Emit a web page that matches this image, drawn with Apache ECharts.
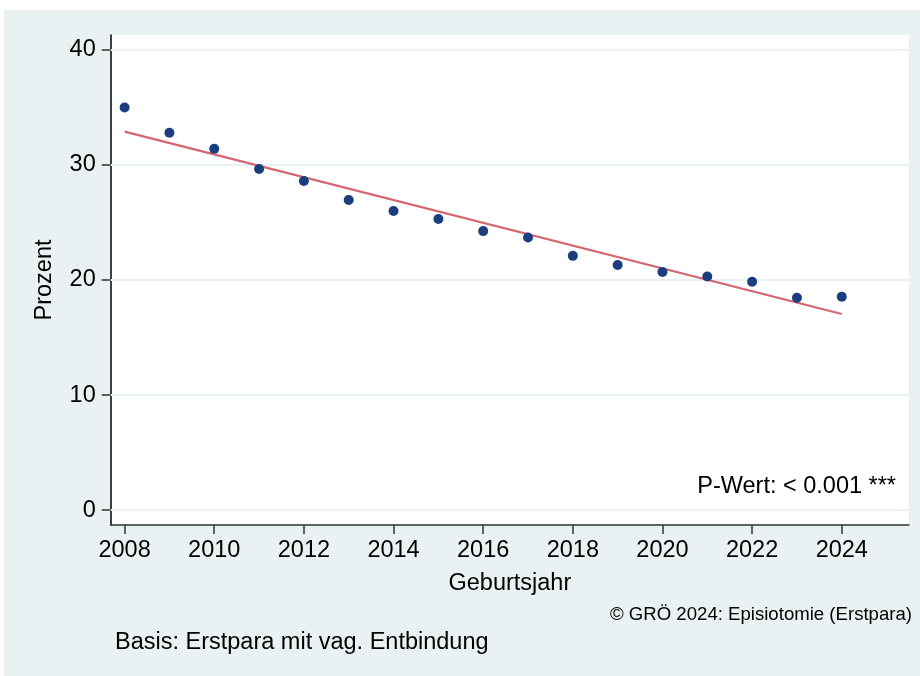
<!DOCTYPE html>
<html>
<head>
<meta charset="utf-8">
<script src="https://cdn.jsdelivr.net/npm/echarts@6/dist/echarts.min.js"></script>
<style>html,body{margin:0;padding:0;background:#fff}#chart{width:920px;height:676px}</style>
</head>
<body>
<div id="chart"></div>
<script>
const years = [2008,2009,2010,2011,2012,2013,2014,2015,2016,2017,2018,2019,2020,2021,2022,2023,2024];
const percent = [35.0,32.8,31.4,29.65,28.6,26.95,26.0,25.3,24.25,23.7,22.1,21.3,20.7,20.3,19.85,18.45,18.55];
const fitYears = [2008, 2024];
const fitValues = [32.9, 17.04];
const xTicks = [2008,2010,2012,2014,2016,2018,2020,2022,2024];
const yTicks = [0,10,20,30,40];

const FONT = '"Liberation Sans", Arial, sans-serif';
const FS = 23.5;
const chart = echarts.init(document.getElementById('chart'), null, {renderer:'canvas'});
chart.setOption({
  backgroundColor: '#ffffff',
  animation: false,
  graphic: [
    {type:'rect', z:-10, silent:true, shape:{x:4, y:10, width:916, height:666}, style:{fill:'#EAF1F3'}},
    {type:'text', style:{text:'P-Wert: < 0.001 ***', x:896, y:487, align:'right', verticalAlign:'middle', font:FS + 'px ' + FONT, fill:'#000'}, z:10},
    {type:'text', style:{text:'© GRÖ 2024: Episiotomie (Erstpara)', x:912, y:615, align:'right', verticalAlign:'middle', font:'18.6px ' + FONT, fill:'#000'}, z:10},
    {type:'text', style:{text:'Basis: Erstpara mit vag. Entbindung', x:115, y:643, align:'left', verticalAlign:'middle', font:FS + 'px ' + FONT, fill:'#000'}, z:10}
  ],
  grid: {left:110.7, right:11, top:35, bottom:151, show:true, backgroundColor:'#ffffff', borderWidth:0, containLabel:false},
  xAxis: {
    type:'value', min:2007.69, max:2025.5,
    name:'Geburtsjahr', nameLocation:'middle', nameGap:47,
    nameTextStyle:{fontFamily:FONT, fontSize:FS, color:'#000'},
    axisLine:{show:true, onZero:false, lineStyle:{color:'#333', width:1.5}},
    axisTick:{show:true, length:9, customValues:xTicks, lineStyle:{color:'#333', width:1.5}},
    axisLabel:{customValues:xTicks, margin:14, fontFamily:FONT, fontSize:FS, color:'#000', formatter:v=>String(v)},
    splitLine:{show:false}
  },
  yAxis: {
    type:'value', min:-1.3, max:41.3,
    name:'Prozent', nameLocation:'middle', nameGap:54,
    nameTextStyle:{fontFamily:FONT, fontSize:FS, color:'#000'},
    axisLine:{show:true, onZero:false, lineStyle:{color:'#000', width:1.5}},
    axisTick:{show:true, length:9, customValues:yTicks, lineStyle:{color:'#333', width:1.5}},
    axisLabel:{customValues:yTicks, margin:15, fontFamily:FONT, fontSize:FS, color:'#000'},
    splitLine:{show:false}
  },
  series: [
    {
      type:'line', data: fitYears.map((y,i)=>[y, fitValues[i]]), symbol:'none',
      lineStyle:{color:'#D3666F', width:2.2}, z:2,
      markLine:{silent:true, symbol:'none', label:{show:false}, z:1,
        lineStyle:{color:'#EAF1F3', width:2, type:'solid'},
        data: yTicks.map(v=>({yAxis:v}))}
    },
    {
      type:'scatter', data: years.map((y,i)=>[y, percent[i]]), symbolSize:10,
      itemStyle:{color:'#1B3E7E', opacity:1}, z:3
    }
  ]
});
</script>
</body>
</html>
